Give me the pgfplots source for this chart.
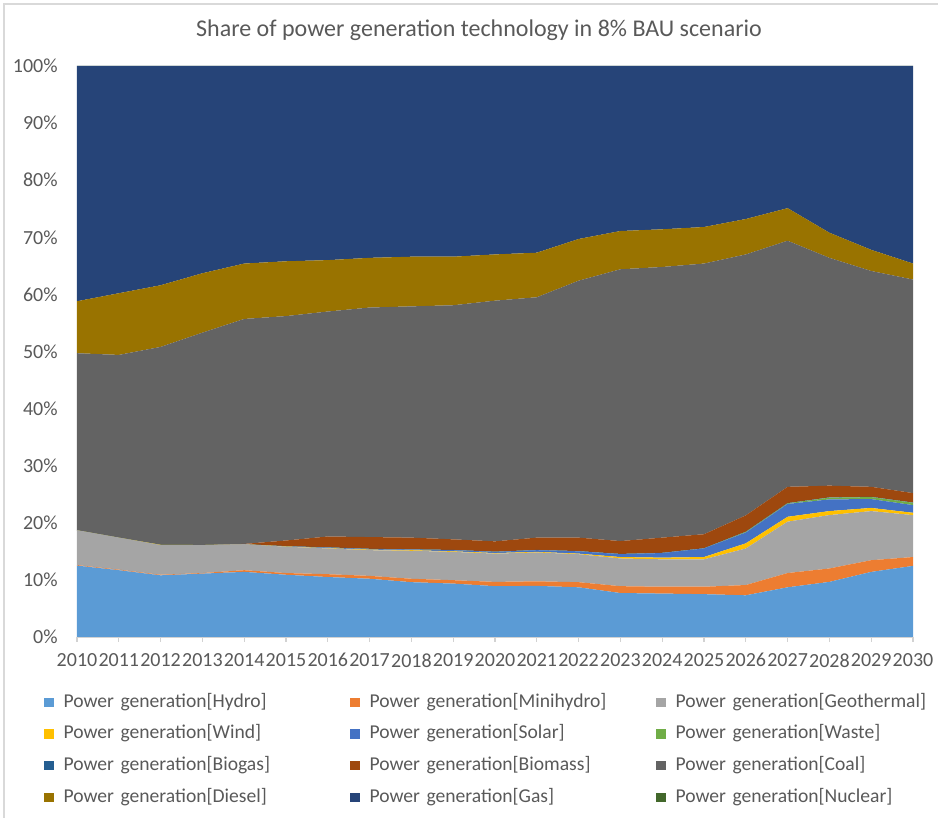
\documentclass[border=0pt]{standalone}
\usepackage{fontspec}
\setmainfont{Carlito}
\usepackage{pgfplots}
\usepackage{pgfplotstable}
\pgfplotsset{compat=1.18}

\definecolor{txt}{HTML}{595959}
\definecolor{cHydro}{HTML}{5B9BD5}
\definecolor{cMini}{HTML}{ED7D31}
\definecolor{cGeo}{HTML}{A5A5A5}
\definecolor{cWind}{HTML}{FFC000}
\definecolor{cSolar}{HTML}{4472C4}
\definecolor{cWaste}{HTML}{70AD47}
\definecolor{cBiogas}{HTML}{255E91}
\definecolor{cBiomass}{HTML}{9E480E}
\definecolor{cCoal}{HTML}{636363}
\definecolor{cDiesel}{HTML}{997300}
\definecolor{cGas}{HTML}{264478}
\definecolor{cNuclear}{HTML}{43682B}

% shares in % of total generation
\pgfplotstableread{
year hydro mini geo  wind solar waste biogas biomass coal  diesel gas  nuclear
2010 12.5  0.1  6.1  0    0     0     0      0       31.0  9.1    41.2 0
2011 11.7  0.1  5.6  0    0     0     0      0       32.0  10.8   39.8 0
2012 10.8  0.1  5.2  0.05 0     0     0      0       34.65 10.8   38.4 0
2013 11.1  0.1  4.9  0    0     0     0      0       37.2  10.4   36.3 0
2014 11.4  0.3  4.55 0    0     0     0      0.05    39.4  9.7    34.6 0
2015 10.9  0.3  4.6  0.05 0.05  0     0      1.0     39.3  9.6    34.2 0
2016 10.5  0.5  4.5  0.05 0.1   0     0.05   1.9     39.4  9.0    34.0 0
2017 10.2  0.5  4.5  0.1  0.1   0     0.05   2.05    40.2  8.7    33.6 0
2018 9.6   0.6  4.9  0.1  0.1   0     0.05   2.05    40.5  8.7    33.4 0
2019 9.35  0.6  4.95 0.1  0.2   0     0.05   1.85    41.0  8.5    33.4 0
2020 8.9   0.75 4.95 0.1  0.2   0     0.05   1.8     42.15 8.1    33.0 0
2021 8.95  0.8  5.05 0.1  0.3   0     0.05   2.15    42.1  7.8    32.7 0
2022 8.7   0.9  4.9  0.1  0.4   0     0.05   2.35    45.0  7.3    30.3 0
2023 7.7   1.2  4.85 0.25 0.5   0     0.05   2.25    47.6  6.7    28.9 0
2024 7.6   1.2  4.8  0.3  0.8   0     0.05   2.65    47.4  6.6    28.6 0
2025 7.5   1.3  4.8  0.4  1.5   0     0.05   2.45    47.4  6.4    28.2 0
2026 7.3   1.8  6.4  0.9  1.9   0.1   0.05   2.85    45.7  6.2    26.8 0
2027 8.7   2.5  9.0  0.85 2.25  0.1   0.05   2.85    43.1  5.7    24.9 0
2028 9.65  2.35 9.35 0.7  2.05  0.3   0.05   2.05    39.9  4.4    29.2 0
2029 11.4  2.05 8.6  0.55 1.55  0.35  0.05   1.75    37.8  3.7    32.2 0
2030 12.45 1.55 7.35 0.4  1.35  0.4   0.05   1.65    37.4  2.8    34.6 0
}\shares

\begin{document}
\begin{tikzpicture}
\path[use as bounding box] (-38.5pt,-90.5pt) rectangle (430.5pt,318.5pt);
\begin{axis}[
  at={(0,0)}, anchor=south west,
  scale only axis, width=418pt, height=285.5pt,
  stack plots=y,
  xmin=2010, xmax=2030, ymin=0, ymax=100,
  xtick=data, ytick={0,10,...,100},
  /pgf/number format/assume math mode=true,
  /pgf/number format/1000 sep={},
  yticklabel={\pgfmathprintnumber{\tick}\%},
  tick label style={font=\fontsize{10}{12}\selectfont, text=txt},
  axis x line*=bottom, axis y line*=left,
  x axis line style={draw=gray!35, line width=0.6pt},
  y axis line style={draw=none},
  xtick style={draw=gray!35, line width=0.6pt},
  ytick style={draw=none},
  tick align=outside, major tick length=2.5pt,
  xticklabel style={inner sep=0pt, anchor=north, yshift=-5.5pt},
  yticklabel style={inner sep=0pt, anchor=east, xshift=-7pt},
  every axis plot/.append style={draw=none},
  legend columns=3,
  legend cell align=left,
  legend image code/.code={\fill[#1] (0pt,-2.3pt) rectangle (4.6pt,2.3pt);},
  legend style={at={(-16.5pt,-27.5pt)}, anchor=north west, draw=none, fill=none,
    inner sep=0pt, row sep=5.8pt,
    font=\fontsize{9.8}{12}\selectfont, text=txt,
    nodes={inner sep=0pt, text height=7.5pt, text depth=2.5pt, text width=143.4pt, align=left},
    /tikz/every odd column/.append style={column sep=5pt}},
]
\addplot[fill=cHydro] table[x=year, y=hydro] {\shares} \closedcycle;
\addlegendentry{Power generation[Hydro]}
\addplot[fill=cMini] table[x=year, y=mini] {\shares} \closedcycle;
\addlegendentry{Power generation[Minihydro]}
\addplot[fill=cGeo] table[x=year, y=geo] {\shares} \closedcycle;
\addlegendentry{Power generation[Geothermal]}
\addplot[fill=cWind] table[x=year, y=wind] {\shares} \closedcycle;
\addlegendentry{Power generation[Wind]}
\addplot[fill=cSolar] table[x=year, y=solar] {\shares} \closedcycle;
\addlegendentry{Power generation[Solar]}
\addplot[fill=cWaste] table[x=year, y=waste] {\shares} \closedcycle;
\addlegendentry{Power generation[Waste]}
\addplot[fill=cBiogas] table[x=year, y=biogas] {\shares} \closedcycle;
\addlegendentry{Power generation[Biogas]}
\addplot[fill=cBiomass] table[x=year, y=biomass] {\shares} \closedcycle;
\addlegendentry{Power generation[Biomass]}
\addplot[fill=cCoal] table[x=year, y=coal] {\shares} \closedcycle;
\addlegendentry{Power generation[Coal]}
\addplot[fill=cDiesel] table[x=year, y=diesel] {\shares} \closedcycle;
\addlegendentry{Power generation[Diesel]}
\addplot[fill=cGas] table[x=year, y=gas] {\shares} \closedcycle;
\addlegendentry{Power generation[Gas]}
\addplot[fill=cNuclear] table[x=year, y=nuclear] {\shares} \closedcycle;
\addlegendentry{Power generation[Nuclear]}
\end{axis}
\node[font=\fontsize{12}{14}\selectfont, text=txt] at (201pt,303.5pt)
  {Share of power generation technology in 8\% BAU scenario};
\draw[gray!30, line width=0.6pt] (-36.5pt,-95pt) -- (-36.5pt,316.5pt) -- (440pt,316.5pt);
\end{tikzpicture}
\end{document}
